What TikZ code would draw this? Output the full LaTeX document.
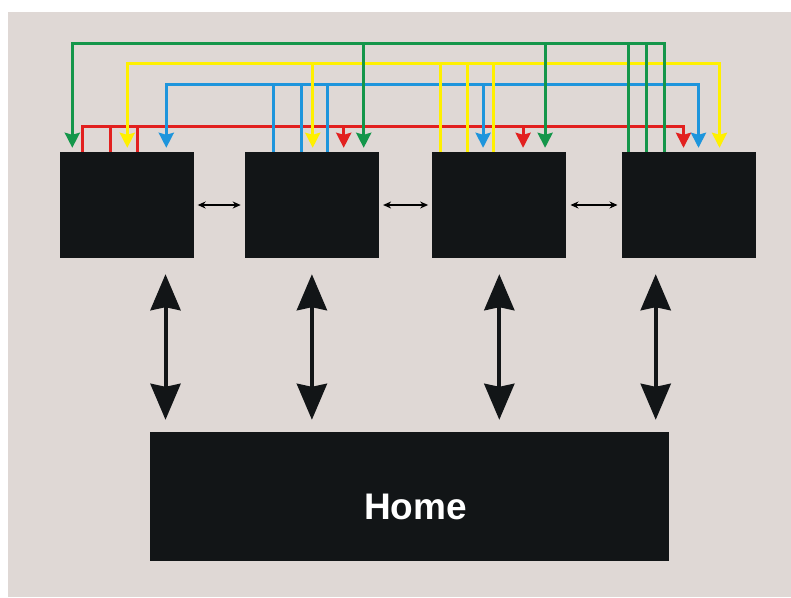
\documentclass[tikz,border=0pt]{standalone}
\usepackage{fontspec}
\setmainfont{Liberation Sans}
\usepackage{tikz}
\usetikzlibrary{arrows.meta, positioning, calc}
\definecolor{PanelGrey}{HTML}{DFD8D5}
\definecolor{BoxBlack}{HTML}{121517}
\definecolor{BusRed}{HTML}{E2201F}
\definecolor{BusBlue}{HTML}{1E95DC}
\definecolor{BusYellow}{HTML}{FFF000}
\definecolor{BusGreen}{HTML}{14964A}

\begin{document}
\begin{tikzpicture}[x=1pt, y=-1pt, >={Stealth[width=15pt,length=15pt,inset=2pt]}]
    \tikzstyle{unitbox} = [rectangle, fill=BoxBlack, minimum width=134pt, minimum height=106pt, inner sep=0pt]
    \tikzstyle{homebox} = [rectangle, fill=BoxBlack, minimum width=519pt, minimum height=129pt, inner sep=0pt, text=white, font=\bfseries\fontsize{37}{44}\selectfont, text width=115pt, align=right, text height=46pt]
    \tikzstyle{link} = [draw, {Stealth[width=7pt,length=8pt]}-{Stealth[width=7pt,length=8pt]}, line width=1.2pt, shorten <=4pt, shorten >=4pt]
    \tikzstyle{bigarrow} = [draw, {Stealth[width=30pt,length=36pt,inset=3pt]}-{Stealth[width=30pt,length=36pt,inset=3pt]}, line width=4pt, BoxBlack, shorten <=16pt, shorten >=12pt]
    \tikzstyle{bus} = [draw, line width=3pt]
    \tikzstyle{drop} = [bus, ->, shorten >=4pt]

    \useasboundingbox (0,0) rectangle (791,597);
    \fill[PanelGrey] (8,12) rectangle (791,597);

    \node [unitbox] (b1) at (126.5,205) {};
    \node [unitbox, right=51pt of b1] (b2) {};
    \node [unitbox, right=53pt of b2] (b3) {};
    \node [unitbox, right=55pt of b3] (b4) {};
    \node [homebox] (home) at (409.5,496.5) {Home};

    \coordinate (greenbus) at (0,43);
    \coordinate (yellowbus) at (0,63);
    \coordinate (bluebus) at (0,84);
    \coordinate (redbus) at (0,126);

    % links between neighbours
    \path [link] (b1) -- (b2);
    \path [link] (b2) -- (b3);
    \path [link] (b3) -- (b4);

    % links to home
    \foreach \bx/\dx in {b1/39, b2/0, b3/0, b4/-33}
        \path [bigarrow] ([xshift=\dx pt]\bx.south) -- ([xshift=\dx pt]\bx.south |- home.north);

    % red: unit 1 to the others
    \path [drop, BusRed] ([xshift=23pt]b1.north west) |- ([xshift=62pt]b4.north west |- redbus) -- ([xshift=62pt]b4.north west);
    \foreach \dx in {51,78}
        \path [bus, BusRed] ([xshift=\dx pt]b1.north west) -- ([xshift=\dx pt]b1.north west |- redbus);
    \foreach \bx/\dx in {b2/99, b3/91}
        \path [drop, BusRed] ([xshift=\dx pt]\bx.north west |- redbus) -- ([xshift=\dx pt]\bx.north west);

    % blue: unit 2 to the others
    \path [drop, BusBlue, <->, shorten <=4pt] ([xshift=107pt]b1.north west) |- ([xshift=77pt]b4.north west |- bluebus) -- ([xshift=77pt]b4.north west);
    \foreach \dx in {29,57,83}
        \path [bus, BusBlue] ([xshift=\dx pt]b2.north west) -- ([xshift=\dx pt]b2.north west |- bluebus);
    \path [drop, BusBlue] ([xshift=51pt]b3.north west |- bluebus) -- ([xshift=51pt]b3.north west);

    % yellow: unit 3 to the others
    \path [drop, BusYellow, <->, shorten <=4pt] ([xshift=68pt]b1.north west) |- ([xshift=98pt]b4.north west |- yellowbus) -- ([xshift=98pt]b4.north west);
    \foreach \dx in {8,35,61}
        \path [bus, BusYellow] ([xshift=\dx pt]b3.north west) -- ([xshift=\dx pt]b3.north west |- yellowbus);
    \path [drop, BusYellow] ([xshift=68pt]b2.north west |- yellowbus) -- ([xshift=68pt]b2.north west);

    % green: unit 4 to the others
    \path [bus, BusGreen, <-, shorten <=4pt] ([xshift=13pt]b1.north west) |- ([xshift=43pt]b4.north west |- greenbus) -- ([xshift=43pt]b4.north west);
    \foreach \dx in {7,25}
        \path [bus, BusGreen] ([xshift=\dx pt]b4.north west) -- ([xshift=\dx pt]b4.north west |- greenbus);
    \foreach \bx/\dx in {b2/119, b3/113}
        \path [drop, BusGreen] ([xshift=\dx pt]\bx.north west |- greenbus) -- ([xshift=\dx pt]\bx.north west);
\end{tikzpicture}
\end{document}
